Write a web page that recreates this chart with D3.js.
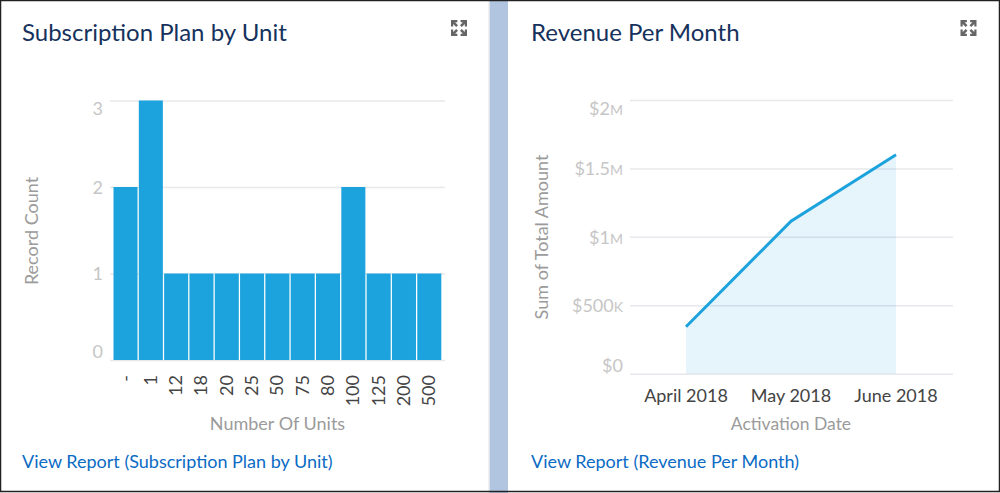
<!DOCTYPE html>
<html>
<head>
<meta charset="utf-8">
<style>
	html, body { margin: 0; padding: 0; background: #fff; }
	svg { display: block; }
	svg text { font-family: Lato, sans-serif; }
	.title { font-size: 24px; fill: #16325c; }
	.link { font-size: 18px; fill: #0b6bc4; }
	.axisTitle { font-size: 18px; fill: #9b9b9b; }
	.grid line { stroke: #e6e8eb; stroke-width: 1.5; }
	.grid path { display: none; }
	.yTick { font-size: 18px; fill: #c6c6c6; }
	.xTick { font-size: 18px; fill: #444; }
</style>
</head>
<body>
<svg id="chart" width="1000" height="493"></svg>
<script src="https://cdn.jsdelivr.net/npm/d3@7/dist/d3.min.js"></script>
<script>
// Subscription Plan by Unit
var unitCategories = ['-', '1', '12', '18', '20', '25', '50', '75', '80', '100', '125', '200', '500'];
var unitCounts = [2, 3, 1, 1, 1, 1, 1, 1, 1, 2, 1, 1, 1];
var unitTicks = [0, 1, 2, 3];

// Revenue Per Month
var months = ['April 2018', 'May 2018', 'June 2018'];
var revenue = [343000, 1115000, 1600000];
var revenueTicks = [0, 500000, 1000000, 1500000, 2000000];
var revenueTickLabels = ['$0', '$500K', '$1M', '$1.5M', '$2M'];

var svg = d3.select('#chart');

//===== FRAME =====//

svg.append('rect').attr('x', 490).attr('y', 0).attr('width', 18).attr('height', 493).attr('fill', '#b1c4e0');
svg.append('rect').attr('x', 488.5).attr('y', 0).attr('width', 1.5).attr('height', 493).attr('fill', '#dfe3e8');
svg.append('rect').attr('x', 0.5).attr('y', 0.5).attr('width', 999).attr('height', 491).attr('fill', 'none').attr('stroke', '#222').attr('stroke-width', 1.5);

function expandIcon(x, y) {
	var g = svg.append('g').attr('transform', 'translate(' + x + ',' + y + ')').attr('fill', '#666');
	[[1, 1], [-1, 1], [1, -1], [-1, -1]].forEach(function (s) {
		g.append('path')
			.attr('transform', 'scale(' + s[0] + ',' + s[1] + ')')
			.attr('d', 'M8 8H1.6V5.8H3.9L1 2.8L2.8 1L5.8 4V1.6H8Z');
	});
}

function cardText(x, title, link) {
	svg.append('text').attr('class', 'title').attr('x', x).attr('y', 41).text(title);
	svg.append('text').attr('class', 'link').attr('x', x).attr('y', 468).text(link);
}

// the top and bottom labels get pushed inside the plot, the rest sit on the line
function placeYLabels(axisG, y, top, bottom) {
	axisG.selectAll('.tick').each(function (d) {
		var clamped = Math.min(bottom - 9, Math.max(top + 8, y(d)));
		d3.select(this).select('text')
			.attr('class', 'yTick')
			.attr('y', clamped - y(d))
			.attr('dy', '0.35em');
	});
}

//===== BAR CHART =====//

cardText(22, 'Subscription Plan by Unit', 'View Report (Subscription Plan by Unit)');
expandIcon(459, 28);

var unitX = d3.scaleBand().domain(unitCategories).range([113.5, 441.3]).paddingInner(0.05).paddingOuter(0);
var unitY = d3.scaleLinear().domain([0, 3]).range([360, 100.5]);

var unitAxis = svg.append('g')
	.attr('class', 'grid')
	.attr('transform', 'translate(110,0)')
	.call(d3.axisLeft(unitY).tickValues(unitTicks).tickFormat(d3.format('d')).tickSize(-335).tickPadding(7));
placeYLabels(unitAxis, unitY, 100.5, 360);

svg.selectAll('rect.bar')
	.data(unitCounts)
	.enter()
	.append('rect')
	.attr('class', 'bar')
	.attr('x', function (d, i) { return unitX(unitCategories[i]); })
	.attr('y', function (d) { return unitY(d); })
	.attr('width', unitX.bandwidth())
	.attr('height', function (d) { return unitY(0) - unitY(d); })
	.attr('fill', '#1ca3dd');

svg.selectAll('text.unitLabel')
	.data(unitCategories)
	.enter()
	.append('text')
	.attr('class', 'xTick unitLabel')
	.attr('text-anchor', 'end')
	.attr('transform', function (d) {
		return 'translate(' + (unitX(d) + unitX.bandwidth() / 2 + 6) + ',375) rotate(-90)';
	})
	.text(function (d) { return d; });

svg.append('text').attr('class', 'axisTitle').attr('x', 277.5).attr('y', 430).attr('text-anchor', 'middle').text('Number Of Units');
svg.append('text').attr('class', 'axisTitle').attr('text-anchor', 'middle')
	.attr('transform', 'translate(38,231) rotate(-90)').text('Record Count');

//===== LINE CHART =====//

cardText(531, 'Revenue Per Month', 'View Report (Revenue Per Month)');
expandIcon(968.5, 28);

var monthX = d3.scalePoint().domain(months).range([686, 896]);
var revenueY = d3.scaleLinear().domain([0, 2000000]).range([373.7, 100]);

var revenueAxis = svg.append('g')
	.attr('class', 'grid')
	.attr('transform', 'translate(630,0)')
	.call(d3.axisLeft(revenueY).tickValues(revenueTicks).tickFormat(function (d) {
		return revenueTickLabels[revenueTicks.indexOf(d)];
	}).tickSize(-323).tickPadding(7));
placeYLabels(revenueAxis, revenueY, 100, 373.7);

// suffix letter is drawn as a small capital
revenueAxis.selectAll('.tick text').each(function () {
	var label = d3.select(this), value = label.text(), suffix = value.match(/[MK]$/);
	if (!suffix) { return; }
	label.text(value.slice(0, -1));
	label.append('tspan').attr('font-size', 14).text(suffix[0]);
});

var area = d3.area()
	.x(function (d, i) { return monthX(months[i]); })
	.y0(revenueY(0))
	.y1(function (d) { return revenueY(d); });

var line = d3.line()
	.x(function (d, i) { return monthX(months[i]); })
	.y(function (d) { return revenueY(d); });

svg.append('path').datum(revenue).attr('d', area).attr('fill', '#1b9ae6').attr('fill-opacity', 0.11);
svg.append('path').datum(revenue).attr('d', line).attr('fill', 'none').attr('stroke', '#1ca3dd').attr('stroke-width', 3);

svg.selectAll('text.monthLabel')
	.data(months)
	.enter()
	.append('text')
	.attr('class', 'xTick monthLabel')
	.attr('x', function (d) { return monthX(d); })
	.attr('y', 402)
	.attr('text-anchor', 'middle')
	.text(function (d) { return d; });

svg.append('text').attr('class', 'axisTitle').attr('x', 791).attr('y', 430).attr('text-anchor', 'middle').attr('font-size', 17.5).style('font-size', '17.5px').text('Activation Date');
svg.append('text').attr('class', 'axisTitle').attr('text-anchor', 'middle')
	.attr('transform', 'translate(548,237) rotate(-90)').text('Sum of Total Amount');
</script>
</body>
</html>
